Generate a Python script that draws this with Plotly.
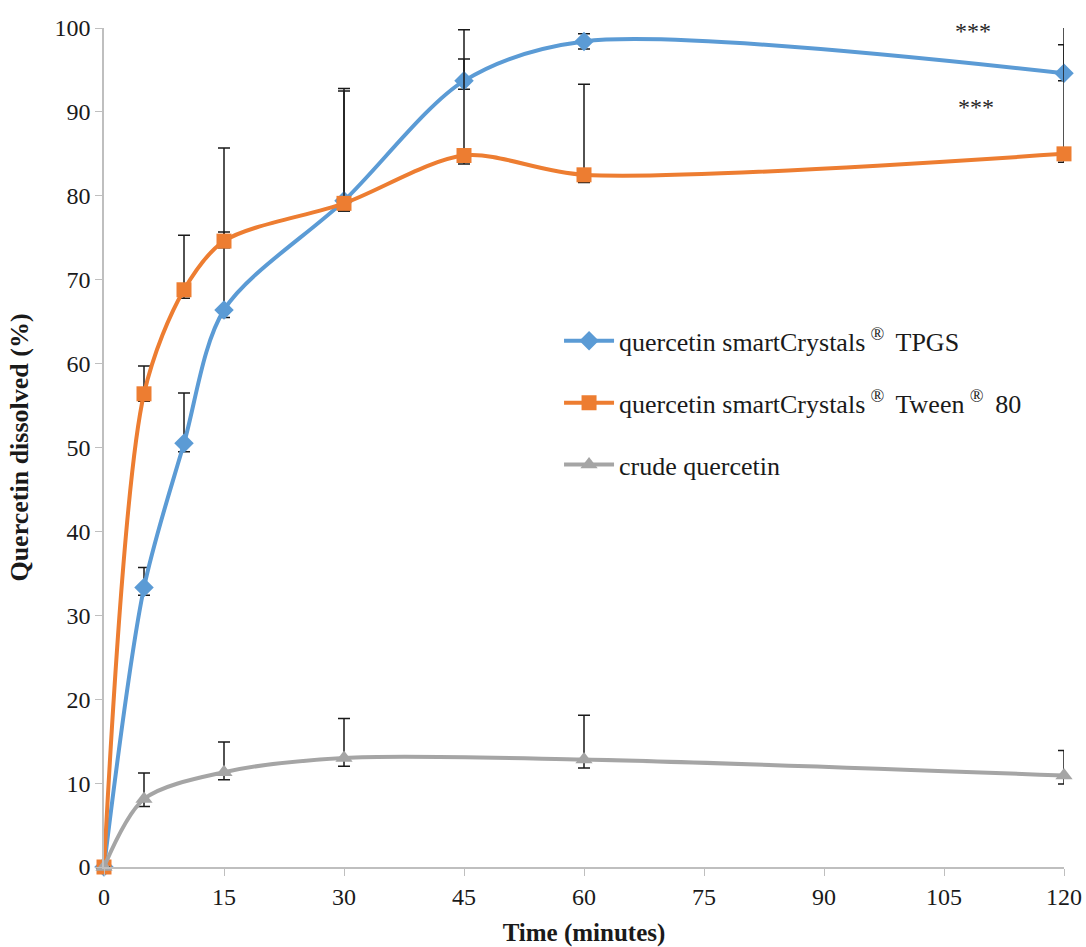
import plotly.graph_objects as go

# Dissolution time points (minutes)
time_main = [0, 5, 10, 15, 30, 45, 60, 120]
time_crude = [0, 5, 15, 30, 60, 120]

# Percent dissolved
tpgs = [0, 33.3, 50.5, 66.4, 79.4, 93.7, 98.4, 94.6]
tween = [0, 56.4, 68.8, 74.6, 79.1, 84.8, 82.5, 85.0]
crude = [0, 8.1, 11.3, 13.0, 12.8, 10.9]

# Error bar extents (upper / lower)
tpgs_err_up = [0, 2.4, 6.0, 9.3, 13.1, 6.1, 0.9, 3.4]
tpgs_err_down = [0, 0.9, 1.0, 0.9, 1.2, 1.0, 0.9, 0.9]
tween_err_up = [0, 3.3, 6.5, 11.1, 13.7, 11.5, 10.8, 16.5]
tween_err_down = [0, 0.9, 1.0, 0.8, 0.9, 1.0, 0.9, 1.0]
crude_err_up = [0, 3.1, 3.6, 4.7, 5.3, 3.0]
crude_err_down = [0, 0.9, 0.9, 1.0, 1.0, 1.0]

x_ticks = [0, 15, 30, 45, 60, 75, 90, 105, 120]
y_ticks = [0, 10, 20, 30, 40, 50, 60, 70, 80, 90, 100]

TS = "\u2009"  # thin space around the registered-trademark superscripts
names = [
    f"quercetin smartCrystals{TS}<sup>®</sup>{TS} TPGS",
    f"quercetin smartCrystals{TS}<sup>®</sup>{TS} Tween{TS}<sup>®</sup>{TS} 80",
    "crude quercetin",
]

FONT = "Liberation Serif, Times New Roman, serif"
ERR_COLOR = "#1a1a1a"


def err(up, down):
    return dict(type="data", symmetric=False, array=up, arrayminus=down,
                color=ERR_COLOR, thickness=1.5, width=6)


fig = go.Figure()
fig.add_trace(go.Scatter(
    x=time_main, y=tpgs, name=names[0], legendgroup="a",
    mode="lines+markers",
    line=dict(color="#5B9BD5", width=4, shape="spline", smoothing=0.85),
    marker=dict(symbol="diamond", size=15, color="#5B9BD5"),
    error_y=err(tpgs_err_up, tpgs_err_down), cliponaxis=False,
))
fig.add_trace(go.Scatter(
    x=time_main, y=tween, name=names[1], legendgroup="b",
    mode="lines+markers",
    line=dict(color="#ED7D31", width=4, shape="spline", smoothing=0.85),
    marker=dict(symbol="square", size=15, color="#ED7D31"),
    error_y=err(tween_err_up, tween_err_down), cliponaxis=False,
))
fig.add_trace(go.Scatter(
    x=time_crude, y=crude, name=names[2], legendgroup="c",
    mode="lines+markers",
    line=dict(color="#A5A5A5", width=4, shape="spline", smoothing=0.85),
    marker=dict(symbol="triangle-up", size=15, color="#A5A5A5"),
    error_y=err(crude_err_up, crude_err_down), cliponaxis=False,
))

# Significance markers
for xs, ys in [(108.6, 99.6), (109.0, 90.6)]:
    fig.add_annotation(x=xs, y=ys, xref="x", yref="y", text="***",
                       showarrow=False, font=dict(family=FONT, size=24, color="#262626"))

axis_common = dict(
    showgrid=False, zeroline=False, showline=True, linecolor="#BFBFBF", linewidth=1.5,
    ticks="outside", tickcolor="#BFBFBF", ticklen=7, tickwidth=1.2, automargin=False,
    tickfont=dict(family=FONT, size=24, color="#1a1a1a"),
)

fig.update_layout(
    width=1086, height=947,
    margin=dict(l=104, r=22, t=28, b=80),
    paper_bgcolor="white", plot_bgcolor="white",
    showlegend=True,
    legend=dict(
        x=0.474, y=0.655, xanchor="left", yanchor="top",
        font=dict(family=FONT, size=26, color="#1a1a1a"),
        bgcolor="rgba(0,0,0,0)", tracegroupgap=25, itemwidth=50,
        traceorder="grouped",
    ),
    xaxis=dict(
        range=[0, 120], tickvals=x_ticks,
        title=dict(text="<b>Time (minutes)</b>", font=dict(family=FONT, size=25, color="#1a1a1a"),
                   standoff=20),
        **axis_common,
    ),
    yaxis=dict(
        range=[0, 100], tickvals=y_ticks,
        title=dict(text="<b>Quercetin dissolved (%)</b>", font=dict(family=FONT, size=26, color="#1a1a1a"),
                   standoff=18),
        **axis_common,
    ),
)

fig.write_html("out.html")
